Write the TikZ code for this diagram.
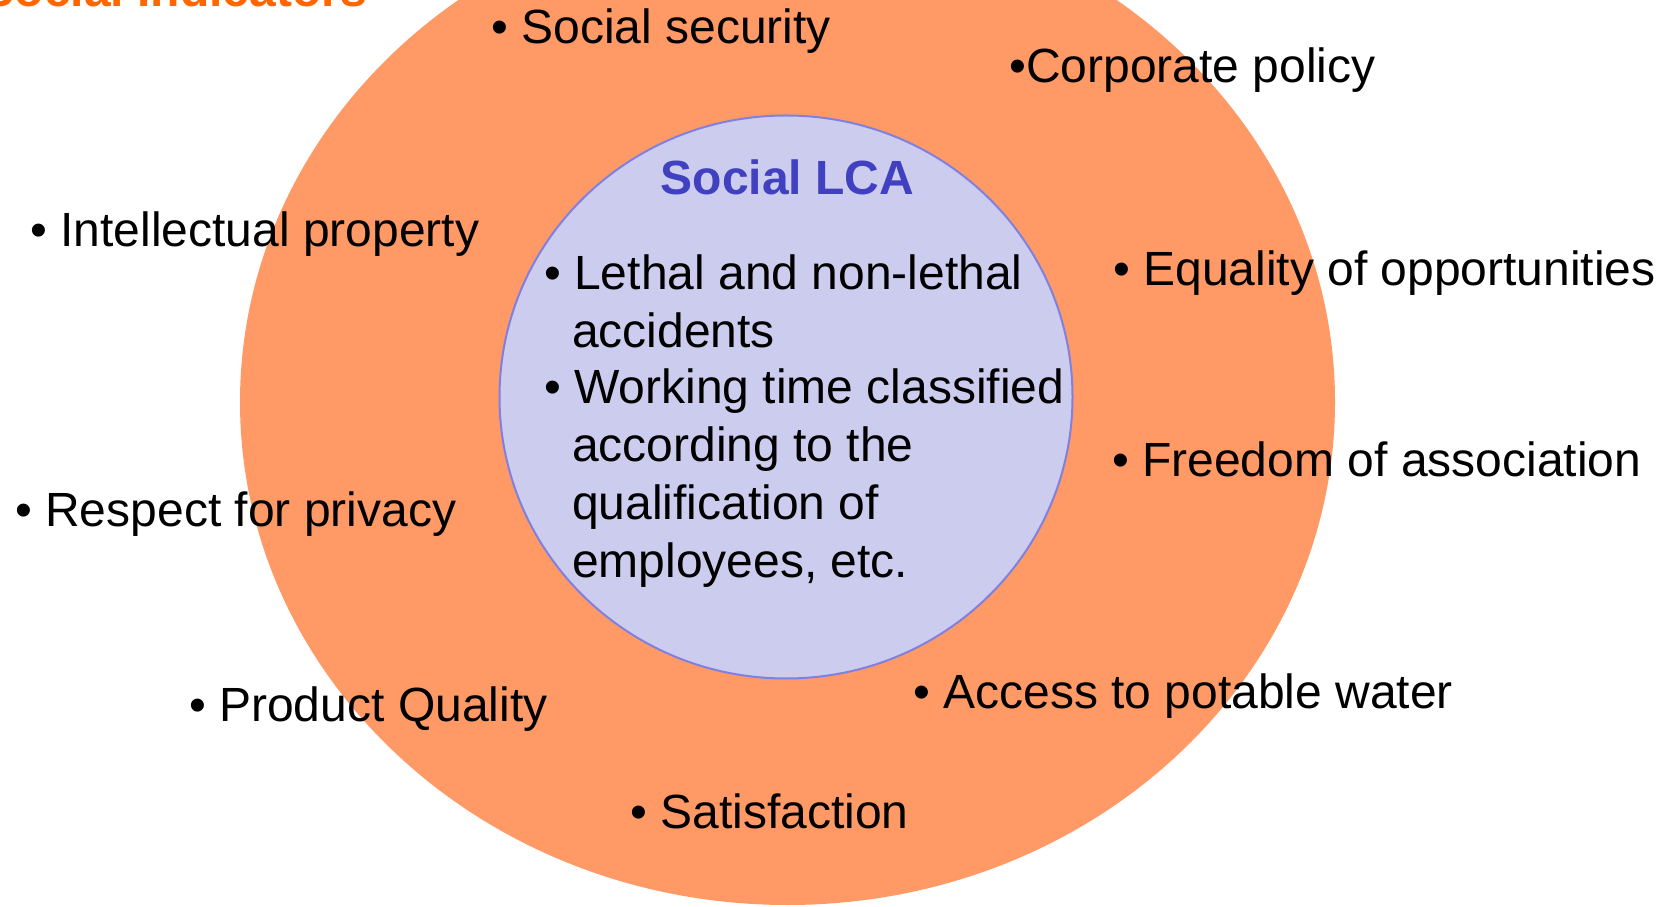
\documentclass[tikz,border=0pt]{standalone}
\usepackage{fontspec}
\setmainfont{Liberation Sans}
\definecolor{outerfill}{RGB}{255,153,102}
\definecolor{innerfill}{RGB}{204,204,238}
\definecolor{innerline}{RGB}{128,128,224}
\definecolor{lcablue}{RGB}{64,64,192}
\definecolor{titleorange}{RGB}{255,102,0}
\begin{document}
\begin{tikzpicture}[x=1pt,y=1pt,
  item/.style={anchor=base west,inner sep=0pt,font=\fontsize{48}{57.6}\selectfont,text=black},
  heading/.style={inner sep=0pt,font=\fontsize{48}{57.6}\selectfont\bfseries}]
\useasboundingbox (0,0) rectangle (1673,906);
\clip (0,0) rectangle (1673,906);
\fill[outerfill] (787.5,504) ellipse [x radius=547.5, y radius=503];
\draw[fill=innerfill,draw=innerline,line width=2pt] (786,509) ellipse [x radius=286.5, y radius=281.5];
\node[heading,anchor=base east,text=titleorange] (title) at (367,899) {Social Indicators};
\node[heading,anchor=base,text=lcablue] (slca) at (787.5,711) {Social LCA};
\node[item] (socsec) at (491,862) {\textbullet\ Social security};
\node[item] (corp) at (1009,823) {\textbullet Corporate policy};
\node[item] (intel) at (30,659.5) {\textbullet\ Intellectual property};
\node[item] (equal) at (1113,620) {\textbullet\ Equality of opportunities};
\node[item] (freed) at (1112,429) {\textbullet\ Freedom of association};
\node[item] (priv) at (15,379) {\textbullet\ Respect for privacy};
\node[item] (prodq) at (189,185) {\textbullet\ Product Quality};
\node[item] (water) at (913,197.5) {\textbullet\ Access to potable water};
\node[item] (satis) at (630,78) {\textbullet\ Satisfaction};
\node[item] (leth1) at (544,616) {\textbullet\ Lethal and non-lethal};
\node[item] (leth2) at (572,558) {accidents};
\node[item] (work1) at (544,502) {\textbullet\ Working time classified};
\node[item] (work2) at (572,444) {according to the};
\node[item] (work3) at (572,386) {qualification of};
\node[item] (work4) at (572,329) {employees, etc.};
\end{tikzpicture}
\end{document}
